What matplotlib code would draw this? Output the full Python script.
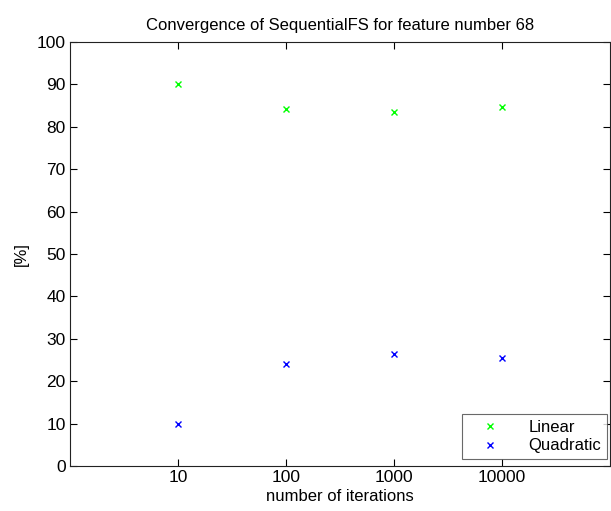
import matplotlib
matplotlib.use("Agg")
import matplotlib.pyplot as plt
from matplotlib.ticker import FixedLocator, FixedFormatter, NullLocator

iterations = [10, 100, 1000, 10000]
tick_labels = ["10", "100", "1000", "10000"]
linear = [90.0, 84.1, 83.6, 84.7]
quadratic = [10.0, 24.1, 26.4, 25.5]

plt.rcParams['font.family'] = ['Liberation Sans', 'DejaVu Sans']
fig = plt.figure(figsize=(6.11, 5.11), dpi=100)
ax = fig.add_axes([70/611, 45/511, 540/611, 424/511])

ax.plot(iterations, linear, linestyle='none', marker='x', color='#00ff00',
        markersize=5, markeredgewidth=1.0, label='Linear')
ax.plot(iterations, quadratic, linestyle='none', marker='x', color='#0000ff',
        markersize=5, markeredgewidth=1.0, label='Quadratic')

ax.set_xscale('log')
ax.set_xlim(1, 1e5)
ax.set_ylim(0, 100)
ax.xaxis.set_major_locator(FixedLocator(iterations))
ax.xaxis.set_major_formatter(FixedFormatter(tick_labels))
ax.xaxis.set_minor_locator(NullLocator())
ax.set_yticks(range(0, 101, 10))

ax.tick_params(direction='in', top=True, right=True, length=5, width=0.8,
               labelsize=12.5, colors='black', pad=3)
for s in ax.spines.values():
    s.set_linewidth(0.8)
    s.set_color('#222222')

ax.set_title('Convergence of SequentialFS for feature number 68', fontsize=12, pad=9)
ax.set_xlabel('number of iterations', fontsize=12, labelpad=3)
ax.set_ylabel('[%]', fontsize=12, labelpad=6)

leg = ax.legend(loc='lower right', bbox_to_anchor=(0.994, 0.016), fontsize=12,
                frameon=True, fancybox=False, borderpad=0.35, handlelength=2.6,
                handletextpad=1.0, labelspacing=0.2, borderaxespad=0)
leg.get_frame().set_edgecolor('#444444')
leg.get_frame().set_linewidth(0.8)

fig.savefig('out.png', dpi=100)
